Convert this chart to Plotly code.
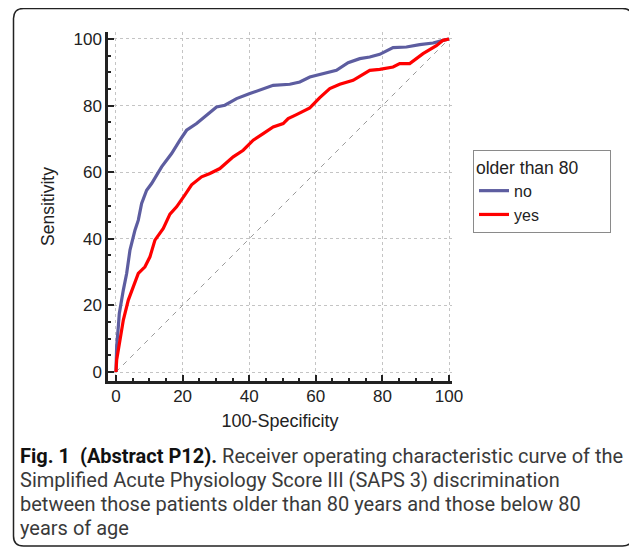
import plotly.graph_objects as go

# ---- data ----
no_x = [0, 0.2, 0.7, 1.0, 2.2, 3.2, 4.2, 5.7, 6.7, 7.7, 9.2, 10.7, 13.7, 16.7, 19.2, 21.2,
        24.2, 27.2, 30.2, 32.7, 36.2, 40.2, 44.2, 47.2, 52.2, 55.2, 58.2, 62.2, 66.2, 69.7,
        73.2, 76.2, 79.2, 83.2, 87.2, 91.2, 95.2, 98.2, 100]
no_y = [0, 7.6, 13.6, 17.6, 24.6, 29.6, 36.6, 42.6, 45.6, 50.6, 54.6, 56.6, 61.6, 65.6, 69.6, 72.6,
        74.6, 77.1, 79.6, 80.1, 82.1, 83.6, 85.1, 86.1, 86.4, 87.1, 88.6, 89.6, 90.6, 92.9,
        94.1, 94.6, 95.4, 97.4, 97.6, 98.3, 98.8, 99.6, 100]

yes_x = [0, 0.2, 1.2, 2.2, 3.7, 5.2, 6.7, 8.7, 10.2, 11.7, 14.2, 16.2, 18.2, 20.7, 22.7, 25.7,
         28.2, 31.2, 35.2, 38.2, 41.2, 44.2, 47.2, 50.2, 51.7, 54.2, 58.2, 61.2, 64.2, 67.2,
         71.2, 76.2, 79.2, 83.2, 85.2, 88.2, 92.2, 96.2, 98.2, 100]
yes_y = [0, 3.6, 9.6, 15.6, 21.6, 25.6, 29.6, 31.6, 34.6, 39.6, 43.1, 47.4, 49.6, 53.2, 56.2, 58.6,
         59.6, 61.1, 64.6, 66.6, 69.6, 71.6, 73.6, 74.6, 76.1, 77.3, 79.3, 82.4, 85.1, 86.4,
         87.6, 90.6, 90.9, 91.6, 92.6, 92.6, 95.6, 98.0, 99.6, 100]

diag = [0, 100]
tick_vals = [0, 20, 40, 60, 80, 100]
tick_text = ["0", "20", "40", "60", "80", "100"]

legend_title = "older than 80"
series_names = ["no", "yes"]

caption_bold = "Fig. 1  (Abstract P12)."
caption_lines = [
    " Receiver operating characteristic curve of the",
    "Simplified Acute Physiology Score III (SAPS 3) discrimination",
    "between those patients older than 80 years and those below 80",
    "years of age",
]

# ---- layout geometry (page has an 8px body margin) ----
OFF = 8
W, H = 637 - OFF, 548 - OFF
ML, MT, PW, PH = 108 - OFF, 32 - OFF, 344, 349
MR, MB = W - ML - PW, H - MT - PH


def px2x(px):
    return (px - OFF - ML) / PW


def py2y(py):
    return (MT + PH - (py - OFF)) / PH


fig = go.Figure()
fig.add_trace(go.Scatter(x=diag, y=diag, mode="lines", showlegend=False, hoverinfo="skip",
                         line=dict(color="#9a9a9a", width=1, dash="5px,5px")))
fig.add_trace(go.Scatter(x=no_x, y=no_y, mode="lines", name=series_names[0],
                         line=dict(color="#5D5DA0", width=3.2)))
fig.add_trace(go.Scatter(x=yes_x, y=yes_y, mode="lines", name=series_names[1],
                         line=dict(color="#FF0000", width=3.2)))

axis_common = dict(
    tickvals=tick_vals, ticktext=tick_text,
    ticks="inside", ticklen=6, tickwidth=2, tickcolor="#222",
    showline=True, linewidth=2.5, linecolor="#222",
    showgrid=True, gridcolor="#c4c4c4", griddash="dot", gridwidth=1,
    zeroline=False, mirror=False,
    minor=dict(dtick=5, tick0=0, ticks="inside", ticklen=3, tickwidth=1.5,
               tickcolor="#222", showgrid=False),
    tickfont=dict(family="Liberation Sans, Arial", size=17, color="#222"),
    fixedrange=True,
)

fig.update_layout(
    width=W, height=H,
    margin=dict(l=ML, r=MR, t=MT, b=MB, autoexpand=False),
    paper_bgcolor="white", plot_bgcolor="white",
    font=dict(family="Liberation Sans, Arial", size=17, color="#222"),
    xaxis=dict(range=[-2.4, 100.9], title=dict(text="100-Specificity", standoff=10,
               font=dict(size=18)), ticklabelstandoff=-2, **axis_common),
    yaxis=dict(range=[-2.7, 102.1], title=dict(text="Sensitivity", standoff=15,
               font=dict(size=17.5)), ticklabelstandoff=0, **axis_common),
    legend=dict(
        title=dict(text=legend_title + "\u00a0" * 6, font=dict(size=17.5)),
        x=px2x(473), y=py2y(150), xanchor="left", yanchor="top",
        bordercolor="#8a8a8a", borderwidth=1, bgcolor="white",
        font=dict(size=16), tracegroupgap=0, itemwidth=30,
    ),
    showlegend=True,
)

# rounded frame around the whole figure
L, R, T, B, r = 13.5, 632.5, 8.5, 546, 10
path = (
    f"M {px2x(L + r)} {py2y(T)} L {px2x(R - r)} {py2y(T)} "
    f"Q {px2x(R)} {py2y(T)} {px2x(R)} {py2y(T + r)} "
    f"L {px2x(R)} {py2y(B - r)} Q {px2x(R)} {py2y(B)} {px2x(R - r)} {py2y(B)} "
    f"L {px2x(L + r)} {py2y(B)} Q {px2x(L)} {py2y(B)} {px2x(L)} {py2y(B - r)} "
    f"L {px2x(L)} {py2y(T + r)} Q {px2x(L)} {py2y(T)} {px2x(L + r)} {py2y(T)} Z"
)
fig.add_shape(type="path", path=path, xref="paper", yref="paper",
              line=dict(color="#222", width=1.5), fillcolor="rgba(0,0,0,0)", layer="below")

# caption: one multi-line annotation (line spacing from the 18.5px base size)
reg = "<span style='color:#3a3a3a;font-size:20px'>{}</span>"
caption = (f"<span style='color:#111;font-size:20px'><b>{caption_bold}</b></span>"
           + reg.format(caption_lines[0])
           + "".join("<br>" + reg.format(s) for s in caption_lines[1:]))
fig.add_annotation(x=px2x(18), y=py2y(442), xref="paper", yref="paper",
                   text=caption, showarrow=False, xanchor="left", yanchor="top",
                   font=dict(family="Roboto, Open Sans, sans-serif", size=18.5, color="#111"),
                   align="left")

fig.write_html("out.html")
